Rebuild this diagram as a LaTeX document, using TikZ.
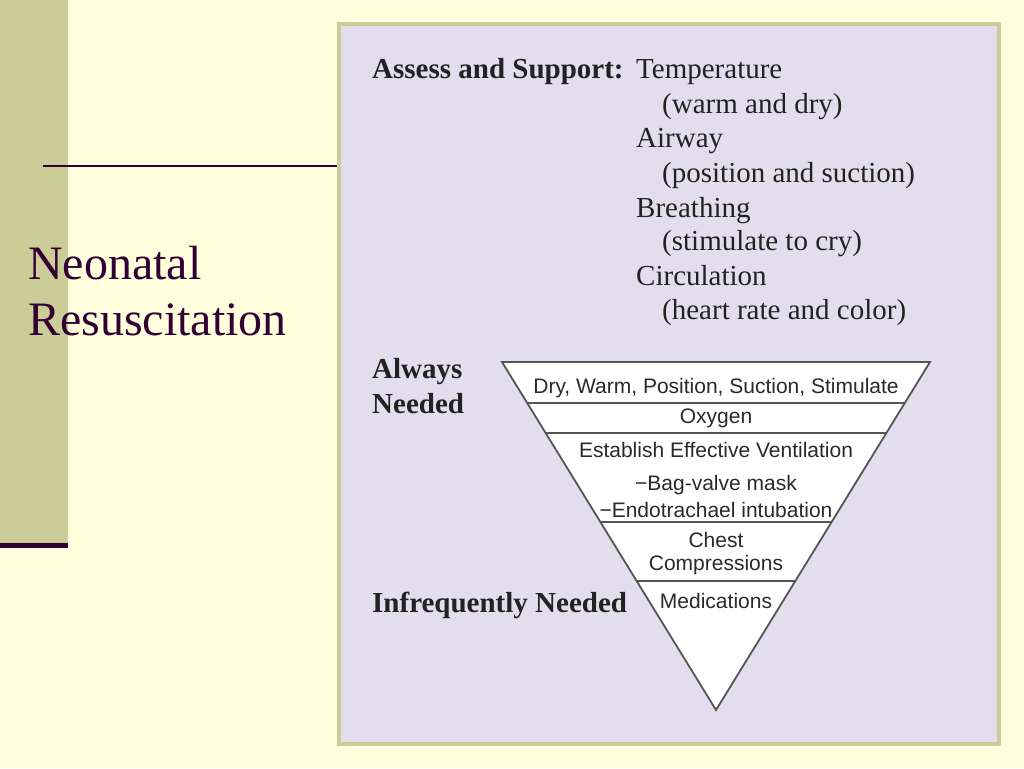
\documentclass[tikz,border=0pt]{standalone}
\usepackage{fontspec}
\setmainfont{Liberation Serif}
\newfontfamily\trisans{Liberation Sans}
\usetikzlibrary{calc}
\definecolor{bgyellow}{HTML}{FFFFDE}
\definecolor{khaki}{HTML}{CCCC99}
\definecolor{lavender}{HTML}{E3DEED}
\definecolor{darkpurple}{HTML}{330033}
\definecolor{txt}{HTML}{222222}
\definecolor{tritxt}{HTML}{2A2A2A}
\definecolor{triline}{HTML}{555555}
\begin{document}
\begin{tikzpicture}[x=1pt,y=-1pt,
  serif/.style={anchor=base west, inner sep=0pt, font=\fontsize{29}{30}\selectfont, text=txt},
  boldserif/.style={anchor=base west, inner sep=0pt, font=\fontsize{29}{30}\selectfont\bfseries, text=txt},
  title/.style={anchor=base west, inner sep=0pt, font=\fontsize{48}{50}\selectfont, text=darkpurple},
  tri/.style={anchor=base, inner sep=0pt, font=\trisans\fontsize{21}{22}\selectfont, text=tritxt},
  triedge/.style={draw=triline, line width=1.8pt, line join=miter},
  band/.style={draw=triline, line width=1.6pt}]
\useasboundingbox (0,0) rectangle (1024,768);
\fill[bgyellow] (0,0) rectangle (1024,768);
% left bar
\fill[khaki] (0,0) rectangle (68,543);
\fill[darkpurple] (0,543) rectangle (68,548);
% horizontal rule
\coordinate (ruleL) at (43,166);
\coordinate (ruleR) at (340,166);
\draw[darkpurple, line width=2pt] (ruleL) -- (ruleR);
% title
\node[title] (t1) at (28,279) {Neonatal};
\node[title] (t2) at (28,335) {Resuscitation};
% panel
\draw[khaki, fill=lavender, line width=4pt] (339,24) rectangle (999,744);
% right column text
\node[boldserif] (as) at (372,78) {Assess and Support:};
\node[serif] (r1) at (636,78) {Temperature};
\node[serif] (r2) at (662,113) {(warm and dry)};
\node[serif] (r3) at (636,147) {Airway};
\node[serif] (r4) at (662,182) {(position and suction)};
\node[serif] (r5) at (636,217) {Breathing};
\node[serif] (r6) at (662,250) {(stimulate to cry)};
\node[serif] (r7) at (636,285) {Circulation};
\node[serif] (r8) at (662,319) {(heart rate and color)};
% left labels
\node[boldserif] (al) at (372,378) {Always};
\node[boldserif] (ne) at (372,413) {Needed};
\node[boldserif] (inf) at (372,612) {Infrequently Needed};
% triangle
\coordinate (tl) at (502,362);
\coordinate (tr) at (930,362);
\coordinate (ap) at (716,710);
\fill[white] (tl) -- (tr) -- (ap) -- cycle;
\foreach \t in {0.1178,0.2040,0.4598,0.6293}{
  \draw[band] ($(tl)!\t!(ap)$) -- ($(tr)!\t!(ap)$);
}
\draw[triedge] (tl) -- (tr) -- (ap) -- cycle;
% triangle text
\node[tri] (b1) at (716,393) {Dry, Warm, Position, Suction, Stimulate};
\node[tri] (b2) at (716,423.5) {Oxygen};
\node[tri] (b3) at (716,457) {Establish Effective Ventilation};
\node[tri] (b4) at (716,490) {−Bag-valve mask};
\node[tri] (b5) at (716,517.5) {−Endotrachael intubation};
\node[tri] (b6) at (716,547) {Chest};
\node[tri] (b7) at (716,570.5) {Compressions};
\node[tri] (b8) at (716,608) {Medications};
\end{tikzpicture}
\end{document}
